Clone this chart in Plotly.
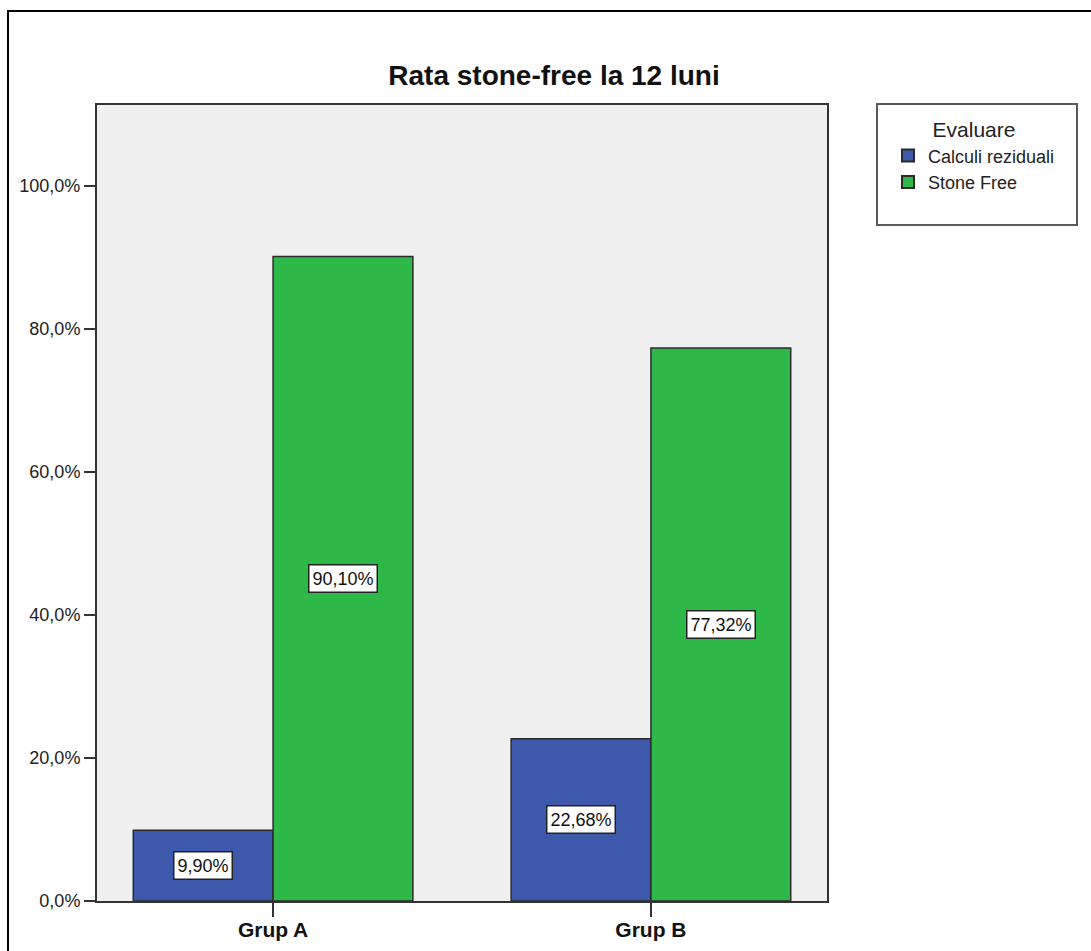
import plotly.graph_objects as go

# Data: share of patients by stone status at 12 months
categories = ["Grup A", "Grup B"]
series_names = ["Calculi reziduali", "Stone Free"]
residual_pct = [9.90, 22.68]
stone_free_pct = [90.10, 77.32]
y_ticks = [0, 20, 40, 60, 80, 100]

series_values = [residual_pct, stone_free_pct]
series_colors = ["#3E58AC", "#2EB848"]

W, H = 1091, 951
M_L, M_R, M_T, M_B = 97, 264, 105, 50
PW, PH = W - M_L - M_R, H - M_T - M_B

BARGAP = 0.26
bar_w = (1 - BARGAP) / len(series_names)

def px_x(px):
    return (px - M_L) / PW

def px_y(py):
    return (H - M_B - py) / PH

def fmt(v, nd=2):
    return f"{v:.{nd}f}".replace(".", ",") + "%"

fig = go.Figure()
x_idx = list(range(len(categories)))
for name, vals, col in zip(series_names, series_values, series_colors):
    fig.add_trace(go.Bar(
        x=x_idx, y=vals, name=name,
        marker=dict(color=col, line=dict(color="#2b2b2b", width=1.5)),
        hoverinfo="skip",
    ))

# value boxes in the middle of each bar
annotations = []
for k, vals in enumerate(series_values):
    for i, v in enumerate(vals):
        annotations.append(dict(
            x=i + (k - (len(series_names) - 1) / 2) * bar_w,
            y=v / 2, xref="x", yref="y",
            text=fmt(v), showarrow=False,
            font=dict(family="Liberation Sans, Arial", size=18, color="#111"),
            bgcolor="white", bordercolor="#222", borderwidth=1.5, borderpad=3,
        ))

shapes = [
    # outer frame of the chart
    dict(type="rect", xref="paper", yref="paper",
         x0=px_x(8), x1=px_x(1200), y0=px_y(1100), y1=px_y(11),
         line=dict(color="black", width=2), fillcolor="rgba(0,0,0,0)", layer="below"),
    # legend frame
    dict(type="rect", xref="paper", yref="paper",
         x0=px_x(877), x1=px_x(1077), y0=px_y(225), y1=px_y(104),
         line=dict(color="#5a5a5a", width=2), fillcolor="white", layer="below"),
]

fig.update_layout(
    width=W, height=H,
    margin=dict(l=M_L, r=M_R, t=M_T, b=M_B, autoexpand=False),
    paper_bgcolor="white",
    plot_bgcolor="#F0F0F0",
    separators=",.",
    barmode="group",
    bargap=BARGAP,
    bargroupgap=0,
    title=dict(
        text="Rata stone-free la 12 luni",
        x=px_x(554), xref="paper", xanchor="center",
        y=1 - 75 / H, yref="container", yanchor="middle",
        font=dict(family="Liberation Sans, Arial", size=28, color="#111", weight="bold"),
    ),
    font=dict(family="Liberation Sans, Arial", color="#222"),
    legend=dict(
        x=px_x(888), y=px_y(110), xanchor="left", yanchor="top",
        bgcolor="rgba(0,0,0,0)", borderwidth=0,
        title=dict(text="Evaluare", side="top center",
                   font=dict(family="Liberation Sans, Arial", size=21, color="#222")),
        font=dict(family="Liberation Sans, Arial", size=18, color="#222"),
        tracegroupgap=0, itemsizing="constant", itemwidth=30,
    ),
    xaxis=dict(
        range=[-0.466, len(categories) - 1 + 0.466],
        tickvals=x_idx, ticktext=categories,
        ticks="outside", ticklen=14, tickwidth=1.5, tickcolor="#333",
        ticklabelstandoff=-5,
        tickfont=dict(family="Liberation Sans, Arial", size=21, color="#111", weight="bold"),
        showline=True, linecolor="#333", linewidth=2, mirror=True,
        showgrid=False, zeroline=False, automargin=False,
    ),
    yaxis=dict(
        range=[0, 111.3],
        tickvals=y_ticks, ticktext=[fmt(t, 1) for t in y_ticks],
        ticks="outside", ticklen=11, tickwidth=1.5, tickcolor="#333",
        tickfont=dict(family="Liberation Sans, Arial", size=18, color="#222"),
        showline=True, linecolor="#333", linewidth=2, mirror=True,
        showgrid=False, zeroline=False, automargin=False,
    ),
    annotations=annotations,
    shapes=shapes,
)

fig.write_html("out.html")
